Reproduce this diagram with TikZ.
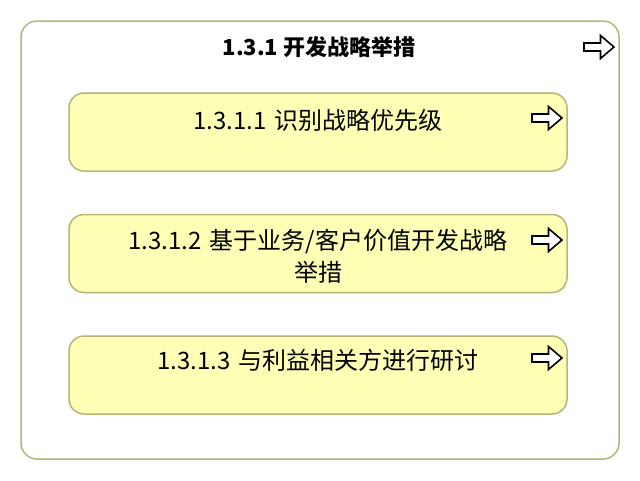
\documentclass[tikz,border=0pt]{standalone}
\usepackage{fontspec}
\setmainfont{Noto Sans CJK SC}
\usetikzlibrary{positioning}
\definecolor{olive}{HTML}{B5B57A}
\definecolor{paleyellow}{HTML}{FFFFB5}
\tikzset{
  outer/.style={rectangle, draw=olive, line width=1.5pt, rounded corners=16pt, fill=white},
  task/.style={rectangle, draw=olive, line width=1.5pt, rounded corners=15pt, fill=paleyellow, minimum width=498pt, minimum height=78pt},
  tasktext/.style={font=\fontsize{24}{32}\selectfont, text width=420pt, align=center, inner sep=0pt},
  openarrow/.pic={
    \draw[black, line width=1.6pt, line join=miter, fill=white]
      (-15,-4) -- (1.5,-4) -- (1.5,-11.5) -- (15,0) -- (1.5,11.5) -- (1.5,4) -- (-15,4) -- cycle;
  }
}
\begin{document}
\begin{tikzpicture}[x=1pt,y=-1pt]
\useasboundingbox (0,0) rectangle (640,480);

% outer frame
\draw[outer] (21,21) rectangle (619,459);
\node (title) [font=\bfseries\fontsize{22}{26}\selectfont, inner sep=0pt] at (319,47) {1.3.1 开发战略举措};
\pic at (599,47) {openarrow};

% sub tasks
\node (t1) [task] at (318,132) {};
\node (t2) [task, below=42pt of t1] {};
\node (t3) [task, below=42pt of t2] {};

\node (l1) [tasktext] at ([yshift=-28pt]t1.north) {1.3.1.1 识别战略优先级};
\node (l2) [tasktext] at ([yshift=-43pt]t2.north) {1.3.1.2 基于业务/客户价值开发战略\\举措};
\node (l3) [tasktext] at ([yshift=-25pt]t3.north) {1.3.1.3 与利益相关方进行研讨};

\pic at (547,118) {openarrow};
\pic at (547,240) {openarrow};
\pic at (547,358) {openarrow};

\end{tikzpicture}
\end{document}
